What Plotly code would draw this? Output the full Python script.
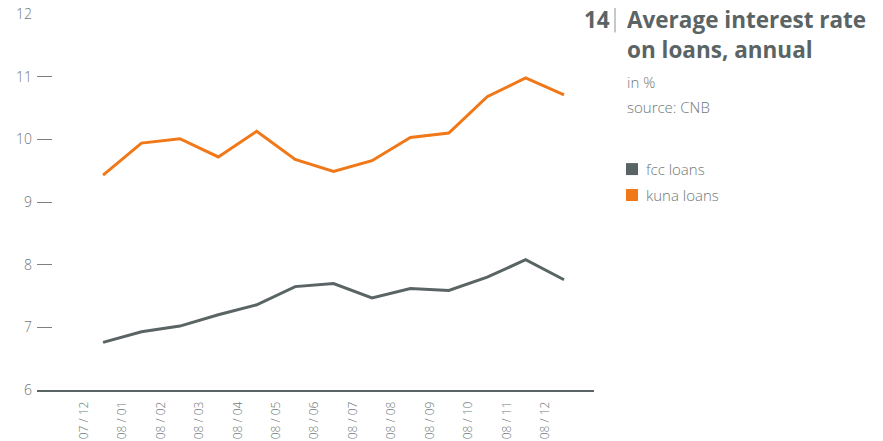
import plotly.graph_objects as go

months = ["07 / 12", "08 / 01", "08 / 02", "08 / 03", "08 / 04", "08 / 05", "08 / 06",
          "08 / 07", "08 / 08", "08 / 09", "08 / 10", "08 / 11", "08 / 12"]
fcc_loans = [6.76, 6.93, 7.02, 7.20, 7.36, 7.65, 7.70, 7.47, 7.62, 7.59, 7.80, 8.08, 7.76]
kuna_loans = [9.43, 9.94, 10.01, 9.72, 10.13, 9.68, 9.49, 9.66, 10.03, 10.10, 10.68, 10.98, 10.71]
y_ticks = [6, 7, 8, 9, 10, 11, 12]

GRAY = "#5a6464"
ORANGE = "#f07818"
LABEL = "#6e7878"
FONT = "Open Sans"

# the page body adds an 8px offset; the figure is sized to fit the window
OFF = 8
W, H = 883 - OFF, 441 - OFF
PLOT_X0, PLOT_X1 = 37, 594      # plot area in window pixels
PLOT_Y0, PLOT_Y1 = 13.5, 390.5
L = PLOT_X0 - OFF
T = PLOT_Y0 - OFF
PW = PLOT_X1 - PLOT_X0
PH = PLOT_Y1 - PLOT_Y0
R = W - L - PW
B = H - T - PH


def px(x):
    return (x - PLOT_X0) / PW


def py(y):
    return (PLOT_Y1 - y) / PH


fig = go.Figure()
fig.add_trace(go.Scatter(x=months, y=fcc_loans, mode="lines", name="fcc loans",
                         line=dict(color=GRAY, width=3), showlegend=False))
fig.add_trace(go.Scatter(x=months, y=kuna_loans, mode="lines", name="kuna loans",
                         line=dict(color=ORANGE, width=3), showlegend=False))

fig.update_layout(
    width=W, height=H,
    margin=dict(l=L, r=R, t=T, b=B, autoexpand=False),
    paper_bgcolor="white", plot_bgcolor="white",
    font=dict(family=FONT, color=LABEL),
    xaxis=dict(type="category", categoryorder="array", categoryarray=months,
               range=[-1.72, 12.78], showgrid=False, zeroline=False, automargin=False,
               showline=True, linecolor=GRAY, linewidth=1.5,
               ticks="", tickangle=-90, ticklabelshift=-19, ticklabelstandoff=5,
               ticklabeloverflow="allow",
               tickfont=dict(size=12, color=LABEL, family=FONT, weight=300)),
    yaxis=dict(range=[6, 12.001], tickvals=y_ticks, showgrid=False, zeroline=False,
               showline=False, ticks="inside", ticklen=15, tickcolor="#7a8282",
               tickwidth=1, ticklabelstandoff=4, automargin=False,
               ticklabeloverflow="allow",
               tickfont=dict(size=14, color=LABEL, family=FONT, weight=300)),
)

ann = []


def text(x, y, s, size, color, anchor="left", weight=300):
    ann.append(dict(x=px(x), y=py(y), xref="paper", yref="paper", text=s,
                    showarrow=False, xanchor=anchor, yanchor="middle",
                    font=dict(size=size, color=color, family=FONT, weight=weight)))


text(612, 19, "14", 22.5, GRAY, anchor="right", weight=700)
text(625, 19, "Average interest rate", 22.5, GRAY, weight=700)
text(625, 49, "on loans, annual", 22.5, GRAY, weight=700)
text(625, 82, "in %", 15, LABEL)
text(625, 107, "source: CNB", 15, LABEL)
text(644, 169, "fcc loans", 15, LABEL)
text(644, 195, "kuna loans", 15, LABEL)
fig.update_layout(annotations=ann)

shapes = [
    dict(type="line", xref="paper", yref="paper", x0=px(615), x1=px(615), y0=py(5), y1=py(32),
         line=dict(color="#8a9292", width=1)),
    dict(type="rect", xref="paper", yref="paper", x0=px(626), x1=px(638), y0=py(163), y1=py(175),
         fillcolor=GRAY, line=dict(width=0)),
    dict(type="rect", xref="paper", yref="paper", x0=px(626), x1=px(638), y0=py(189), y1=py(201),
         fillcolor=ORANGE, line=dict(width=0)),
]
fig.update_layout(shapes=shapes)

fig.write_html("out.html")
